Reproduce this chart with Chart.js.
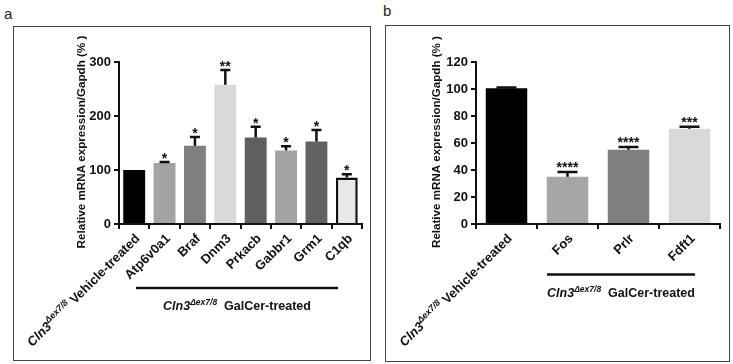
<!DOCTYPE html>
<html>
<head>
<meta charset="utf-8">
<script src="https://cdn.jsdelivr.net/npm/chart.js@4.4.0/dist/chart.umd.min.js"></script>
<style>
  body { margin: 0; width: 733px; height: 364px; background: #fff; position: relative; overflow: hidden; font-family: "Liberation Sans", Arial, sans-serif; }
  .frame { position: absolute; border: 1.5px solid #444; box-sizing: border-box; }
  .tag { position: absolute; font-size: 15px; color: #222; line-height: 1; }
  canvas { position: absolute; }
</style>
</head>
<body>
<div class="tag" style="left:4px;top:6px">a</div>
<div class="tag" style="left:383px;top:3px">b</div>
<div class="frame" style="left:13px;top:26px;width:358px;height:335px"></div>
<div class="frame" style="left:385px;top:25px;width:345px;height:337px"></div>
<canvas id="chartA" width="356" height="332" style="left:14px;top:27px"></canvas>
<canvas id="chartB" width="343" height="335" style="left:386px;top:26px"></canvas>
<script>
// panel a
const genesA = ['Vehicle-treated', 'Atp6v0a1', 'Braf', 'Dnm3', 'Prkacb', 'Gabbr1', 'Grm1', 'C1qb'];
const meanA = [100, 113, 145, 258, 160, 136, 153, 86];
const semA = [0, 2, 16, 27, 20, 8, 21, 6];
const starsA = ['', '*', '*', '**', '*', '*', '*', '*'];

// panel b
const genesB = ['Vehicle-treated', 'Fos', 'Prlr', 'Fdft1'];
const meanB = [100.5, 35, 55, 70.5];
const semB = [0.6, 3.5, 2, 1.5];
const starsB = ['', '****', '****', '***'];

const yTicksA = { max: 300, step: 100 };
const yTicksB = { max: 120, step: 20 };
const yTitle = 'Relative mRNA expression/Gapdh (% )';

const colorsA = ['#000000', '#a3a3a3', '#808080', '#d9d9d9', '#5f5f5f', '#a3a3a3', '#626262', '#e8e8e8'];
const colorsB = ['#000000', '#a6a6a6', '#7f7f7f', '#d9d9d9'];

const FONT = '"Liberation Sans", Arial, sans-serif';
const INK = '#111';

// draws text pieces one after another, right end at x when alignRight
const drawRuns = (ctx, runs, x, y, alignRight) => {
  let total = 0;
  runs.forEach(r => { ctx.font = r.font; total += ctx.measureText(r.t).width; });
  let cx = alignRight ? x - total : x - total / 2;
  ctx.textAlign = 'left';
  ctx.textBaseline = 'alphabetic';
  runs.forEach(r => {
    ctx.font = r.font;
    ctx.fillText(r.t, cx, y - (r.rise || 0));
    cx += ctx.measureText(r.t).width;
  });
};

const cln3Runs = (rest, size, supSize) => [
  { t: 'Cln3', font: 'italic bold ' + size + 'px ' + FONT },
  { t: 'Δex7/8', font: 'italic bold ' + supSize + 'px ' + FONT, rise: size * 0.42 },
  { t: rest, font: 'bold ' + size + 'px ' + FONT },
];

const makePlugin = (labels, means, sems, stars, opt) => ({
  id: 'extras',
  afterDatasetsDraw: chart => {
    const ctx = chart.ctx;
    const y = chart.scales.y;
    const bars = chart.getDatasetMeta(0).data;
    ctx.save();
    ctx.strokeStyle = INK;
    ctx.fillStyle = INK;
    ctx.lineWidth = 2.5;
    bars.forEach((bar, i) => {
      const top = y.getPixelForValue(means[i]);
      const cap = y.getPixelForValue(means[i] + sems[i]);
      if (sems[i] > 0) {
        ctx.beginPath();
        ctx.moveTo(bar.x, top);
        ctx.lineTo(bar.x, cap);
        ctx.moveTo(bar.x - opt.capW / 2, cap);
        ctx.lineTo(bar.x + opt.capW / 2, cap);
        ctx.stroke();
      }
      if (stars[i]) {
        ctx.font = 'bold 14px ' + FONT;
        ctx.textAlign = 'center';
        ctx.textBaseline = 'alphabetic';
        ctx.fillText(stars[i], bar.x, cap + opt.starDy);
      }
    });
    ctx.restore();
  },
  afterDraw: chart => {
    const ctx = chart.ctx;
    const x = chart.scales.x;
    const area = chart.chartArea;
    ctx.save();
    ctx.fillStyle = INK;
    // rotated category labels
    labels.forEach((lab, i) => {
      const px = x.getPixelForValue(i) + 3;
      const py = area.bottom + 12;
      ctx.save();
      ctx.translate(px, py);
      ctx.rotate(-Math.PI / 4);
      const runs = i === 0 ? cln3Runs(' ' + lab, 13, 9) : [{ t: lab, font: 'bold 13px ' + FONT }];
      drawRuns(ctx, runs, 0, 4.5, true);
      ctx.restore();
    });
    // y axis title, sized to the span it has in the figure
    ctx.save();
    ctx.font = 'bold 12px ' + FONT;
    const size = 12 * opt.titleLen / ctx.measureText(yTitle).width;
    ctx.translate(opt.titleX, (area.top + area.bottom) / 2 - 1);
    ctx.rotate(-Math.PI / 2);
    ctx.font = 'bold ' + size.toFixed(2) + 'px ' + FONT;
    ctx.textAlign = 'center';
    ctx.textBaseline = 'middle';
    ctx.fillText(yTitle, 0, 0);
    ctx.restore();
    // group bracket and its label
    ctx.strokeStyle = INK;
    ctx.lineWidth = 2.5;
    ctx.beginPath();
    ctx.moveTo(opt.group.x0, opt.group.y);
    ctx.lineTo(opt.group.x1, opt.group.y);
    ctx.stroke();
    drawRuns(ctx, cln3Runs('  GalCer-treated', 12.5, 8.5), (opt.group.x0 + opt.group.x1) / 2, opt.group.textY, false);
    ctx.restore();
  }
});

const makeChart = (id, labels, means, sems, stars, colors, ticks, opt) => {
  const borders = colors.map((c, i) => (i === colors.length - 1 && opt.outlineLast ? INK : c));
  const bw = colors.map((c, i) => (i === colors.length - 1 && opt.outlineLast ? 2.5 : 0));
  return new Chart(document.getElementById(id), {
    type: 'bar',
    data: {
      labels: labels,
      datasets: [{
        data: means,
        backgroundColor: colors,
        borderColor: borders,
        borderWidth: bw,
        barPercentage: opt.barPct,
        categoryPercentage: 1,
      }]
    },
    options: {
      responsive: false,
      animation: false,
      events: [],
      layout: { padding: { left: 0, top: opt.padTop, right: opt.padRight, bottom: 0 } },
      plugins: { legend: { display: false }, tooltip: { enabled: false } },
      scales: {
        x: {
          grid: { display: true, drawOnChartArea: false, drawTicks: true, tickLength: 5, color: INK, lineWidth: 2 },
          border: { display: true, color: INK, width: 2 },
          ticks: { display: false },
          afterFit: s => { s.height = opt.xHeight; },
        },
        y: {
          min: 0,
          max: ticks.max,
          grid: { display: true, drawOnChartArea: false, drawTicks: true, tickLength: 5, color: INK, lineWidth: 2 },
          border: { display: true, color: INK, width: 2 },
          ticks: { stepSize: ticks.step, padding: 3, color: INK, font: { family: FONT, weight: 'bold', size: 13 } },
          afterFit: s => { s.width = opt.yWidth; },
        }
      }
    },
    plugins: [makePlugin(labels, means, sems, stars, opt)]
  });
};

makeChart('chartA', genesA, meanA, semA, starsA, colorsA, yTicksA, {
  barPct: 0.72, padTop: 35, padRight: 8, xHeight: 135, yWidth: 105,
  capW: 10, starDy: 1, titleX: 68, titleLen: 213, outlineLast: true,
  group: { x0: 122, x1: 324, y: 261, textY: 283 },
});

makeChart('chartB', genesB, meanB, semB, starsB, colorsB, yTicksB, {
  barPct: 0.68, padTop: 36, padRight: 9, xHeight: 137, yWidth: 90,
  capW: 20, starDy: 0, titleX: 51, titleLen: 212, outlineLast: false,
  group: { x0: 161, x1: 309, y: 248.5, textY: 271 },
});
</script>
</body>
</html>
